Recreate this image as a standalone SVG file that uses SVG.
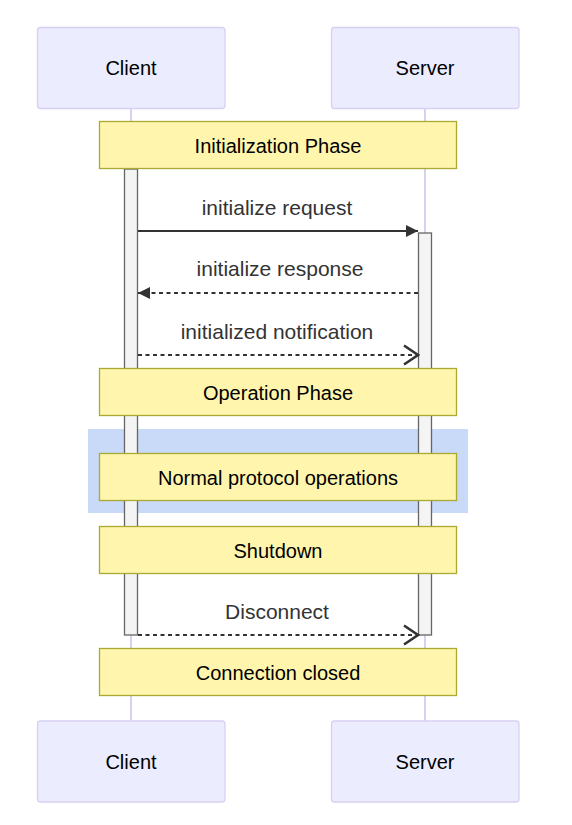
<svg xmlns="http://www.w3.org/2000/svg" width="572" height="825" viewBox="0 0 572 825">
<defs>
<style>
.actor{fill:#ECECFF;stroke:#d8d0f3;stroke-width:1.3}
.life{stroke:#d8d0f3;stroke-width:2}
.note{fill:#fff5ad;stroke:#aaaa33;stroke-width:1.3}
.act{fill:#f4f4f4;stroke:#666;stroke-width:1.3}
.t{font-family:"Liberation Sans",Arial,sans-serif;font-size:20px;text-anchor:middle;dominant-baseline:central}
.at{fill:#000}
.nt{fill:#000}
.mt{fill:#333;font-size:21px}
.msg{stroke:#333;stroke-width:2;fill:none}
.dash{stroke-dasharray:4,3.5}
</style>
<marker id="solid" markerWidth="14" markerHeight="14" refX="12" refY="6" orient="auto" markerUnits="userSpaceOnUse" viewBox="0 0 14 12">
<path d="M0,0 L12,6 L0,12 z" fill="#333"/>
</marker>
<marker id="open" markerWidth="18" markerHeight="24" refX="16" refY="11" orient="auto" markerUnits="userSpaceOnUse" viewBox="0 0 18 22">
<path d="M2,1.5 L16,11 L2,20.5" fill="none" stroke="#333" stroke-width="2.6"/>
</marker>
</defs>
<rect width="572" height="825" fill="#fff"/>
<g id="lifelines">
<line class="life" x1="131" y1="108" x2="131" y2="721"/>
<line class="life" x1="425" y1="108" x2="425" y2="721"/>
</g>
<g id="loop-bg">
<rect x="88" y="429" width="380" height="84" fill="#c8daf7"/>
</g>
<g id="activations">
<rect class="act" x="124.5" y="169" width="13" height="466"/>
<rect class="act" x="418.5" y="233" width="13" height="402"/>
</g>
<g id="actor-client-top">
<rect class="actor" x="37.5" y="27.5" width="187.5" height="81" rx="3"/>
<text class="t at" x="131" y="68">Client</text>
</g>
<g id="actor-server-top">
<rect class="actor" x="331.5" y="27.5" width="187.5" height="81" rx="3"/>
<text class="t at" x="425" y="68">Server</text>
</g>
<g id="actor-client-bottom">
<rect class="actor" x="37.5" y="721" width="187.5" height="81" rx="3"/>
<text class="t at" x="131" y="762">Client</text>
</g>
<g id="actor-server-bottom">
<rect class="actor" x="331.5" y="721" width="187.5" height="81" rx="3"/>
<text class="t at" x="425" y="762">Server</text>
</g>
<g id="connectors">
<line class="msg" x1="138" y1="231" x2="418" y2="231" marker-end="url(#solid)"/>
<text class="t mt" x="277" y="207">initialize request</text>
<line class="msg dash" x1="418" y1="293" x2="138" y2="293" marker-end="url(#solid)"/>
<text class="t mt" x="280" y="268">initialize response</text>
<line class="msg dash" x1="138" y1="355" x2="418" y2="355" marker-end="url(#open)"/>
<text class="t mt" x="277" y="331">initialized notification</text>
<line class="msg dash" x1="138" y1="635" x2="418" y2="635" marker-end="url(#open)"/>
<text class="t mt" x="277" y="611">Disconnect</text>
</g>
<g id="note-init">
<rect class="note" x="99.5" y="121.5" width="357" height="47"/>
<text class="t nt" x="278" y="146">Initialization Phase</text>
</g>
<g id="note-operation">
<rect class="note" x="99.5" y="368.5" width="357" height="47"/>
<text class="t nt" x="278" y="393">Operation Phase</text>
</g>
<g id="note-normal">
<rect class="note" x="99.5" y="453.5" width="357" height="47"/>
<text class="t nt" x="278" y="478">Normal protocol operations</text>
</g>
<g id="note-shutdown">
<rect class="note" x="99.5" y="526.5" width="357" height="47"/>
<text class="t nt" x="278" y="551">Shutdown</text>
</g>
<g id="note-closed">
<rect class="note" x="99.5" y="648.5" width="357" height="47"/>
<text class="t nt" x="278" y="673">Connection closed</text>
</g>
</svg>
